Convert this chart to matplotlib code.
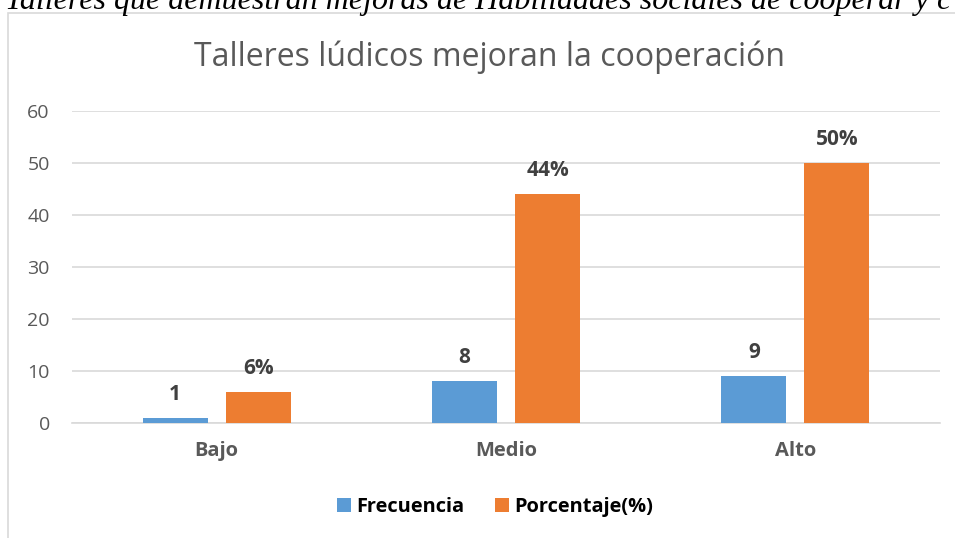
import matplotlib.pyplot as plt
import numpy as np
from matplotlib.patches import Rectangle

categories = ['Bajo', 'Medio', 'Alto']
frecuencia = [1, 8, 9]
porcentaje = [6, 44, 50]
pct_labels = ['6%', '44%', '50%']

blue = '#5b9bd5'
orange = '#ed7d31'
grey = '#595959'

plt.rcParams['font.family'] = ['Open Sans', 'DejaVu Sans']

fig = plt.figure(figsize=(9.55, 5.38), dpi=100)
ax = fig.add_axes([0.0754, 0.2138, 0.9089, 0.5799])

x = np.arange(len(categories))
w = 0.225
off = 0.1435
b1 = ax.bar(x - off, frecuencia, w, color=blue, label='Frecuencia', zorder=3)
b2 = ax.bar(x + off, porcentaje, w, color=orange, label='Porcentaje(%)', zorder=3)

# data labels
for xi, v in zip(x, frecuencia):
    ax.text(xi - off, v + 2.5, str(v), ha='center', va='bottom',
            fontsize=15, fontweight='bold', color='#404040')
for xi, v, s in zip(x, porcentaje, pct_labels):
    ax.text(xi + off, v + 2.5, s, ha='center', va='bottom',
            fontsize=15, fontweight='bold', color='#404040')

ax.set_xlim(-0.5, 2.5)
ax.set_ylim(0, 60)
ax.set_yticks(range(0, 61, 10))
ax.set_xticks(x)
ax.set_xticklabels(categories, fontsize=14.5, fontweight='bold', color=grey)
ax.tick_params(axis='y', labelsize=14, labelcolor=grey, length=0, pad=16)
ax.tick_params(axis='x', length=0, pad=13)
ax.grid(axis='y', color='#d9d9d9', linewidth=1.2, zorder=0)
for s in ['top', 'right', 'left']:
    ax.spines[s].set_visible(False)
ax.spines['bottom'].set_color('#d9d9d9')
ax.spines['bottom'].set_linewidth(1.2)

fig.text(489 / 955, 1 - 66 / 538, 'Talleres lúdicos mejoran la cooperación',
         fontsize=23, color=grey, ha='center', va='baseline')

fig.legend(handles=[b1, b2], loc='center', bbox_to_anchor=(495 / 955, 1 - 507 / 538),
           ncol=2, frameon=False, handlelength=0.7, handleheight=0.7,
           columnspacing=1.5, handletextpad=0.3,
           prop={'size': 14.4, 'weight': 'bold'})

# chart frame
fig.patches.append(Rectangle((8 / 955, -0.1), 1.1, 1 - 13 / 538 + 0.1,
                             transform=fig.transFigure, fill=False,
                             edgecolor='#d9d9d9', linewidth=1.2))

# cut-off caption above the chart
fig.text(5 / 955, 1 - 9 / 538,
         'Talleres que demuestran mejoras de Habilidades sociales de cooperar y c',
         family='Liberation Serif', style='italic', fontsize=23,
         ha='left', va='baseline', color='black')

fig.savefig('out.png', dpi=100)
